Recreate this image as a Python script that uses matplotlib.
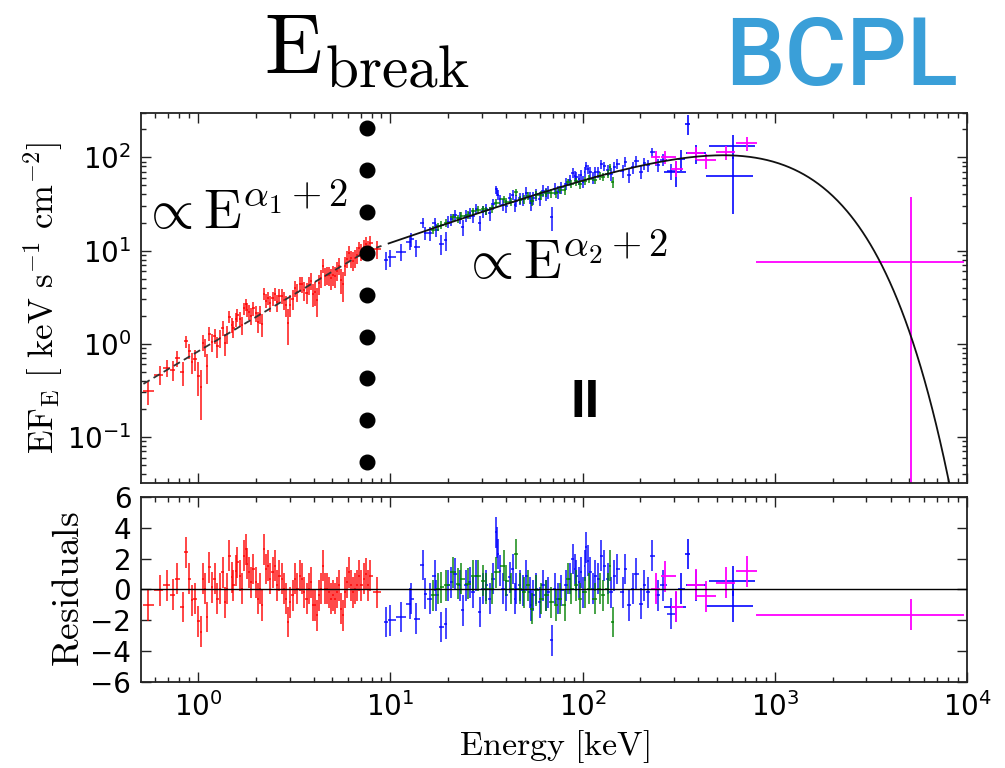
import numpy as np
import matplotlib
matplotlib.use("Agg")
import matplotlib.pyplot as plt
from matplotlib.ticker import LogLocator, NullFormatter, FixedLocator

# ---------------------------------------------------------------------------
# Spectral model: cutoff power law with a sharp break (BCPL)
# ---------------------------------------------------------------------------
E_BREAK = 7.6       # keV
ALPHA1 = -0.773
ALPHA2 = -1.28
E_CUT = 750.0       # keV
NORM_BREAK = 9.96   # EF_E at the break


def bcpl(e):
    e = np.asarray(e, float)
    low = NORM_BREAK * (e / E_BREAK) ** (ALPHA1 + 2)
    high = NORM_BREAK * (e / E_BREAK) ** (ALPHA2 + 2) * np.exp(-(e - E_BREAK) / E_CUT)
    return np.where(e < E_BREAK, low, high)


# ---------------------------------------------------------------------------
# Data: channel energies (keV) and residuals (sigma) per instrument
# ---------------------------------------------------------------------------
red_energy = [0.552, 0.635, 0.688, 0.739, 0.775, 0.833, 0.866, 0.902, 0.927, 0.965,
              1.004, 1.032, 1.066, 1.087, 1.118, 1.145, 1.178, 1.226, 1.260, 1.301,
              1.343, 1.381, 1.420, 1.455, 1.496, 1.526, 1.575, 1.601, 1.653, 1.693,
              1.734, 1.776, 1.804, 1.848, 1.892, 1.940, 2.002, 2.050, 2.100, 2.150,
              2.211, 2.256, 2.310, 2.366, 2.443, 2.502, 2.563, 2.646, 2.731, 2.797,
              2.865, 2.934, 3.006, 3.103, 3.191, 3.281, 3.388, 3.470, 3.553, 3.668,
              3.757, 3.848, 3.941, 4.052, 4.134, 4.235, 4.337, 4.443, 4.550, 4.661,
              4.773, 4.889, 5.008, 5.129, 5.253, 5.380, 5.510, 5.643, 5.803, 5.967,
              6.108, 6.256, 6.407, 6.562, 6.721, 6.884, 7.078, 7.279, 7.456, 7.637,
              7.822, 8.542]
red_resid = [-1.03, -0.06, 0.26, -0.34, 0.69, -1.14, 2.41, 0.69, -0.71, -0.60,
             -2.06, -2.75, 0.69, 0.04, -1.78, 1.44, 0.15, 0.69, -0.60, 0.04,
             1.12, -0.82, 0.04, 2.19, 0.80, 0.26, 1.23, 1.76, 0.90, 0.04,
             2.19, 2.62, 1.66, 1.12, 0.47, 1.33, 0.47, -0.60, 0.04, -1.03,
             2.62, 1.33, 1.55, 0.69, 1.12, 1.55, 0.26, 0.90, 0.69, 0.04,
             -0.60, -2.11, -0.82, -0.39, 0.69, 0.04, 0.90, 0.69, -0.17, -0.60,
             0.04, 0.47, -1.03, -1.03, -1.68, -0.39, 0.04, 1.55, 0.04, 0.04,
             -0.17, -0.60, -0.39, -0.60, -0.17, 0.26, -1.25, -1.68, -0.17, 0.47,
             1.12, 0.26, -0.17, 0.04, 0.26, 0.90, 0.26, 0.69, 1.01, 0.26,
             0.90, -0.17]
red_rel_err = 0.22

blue_energy = [9.48, 9.94, 11.43, 12.63, 12.88, 13.68, 14.81, 15.11, 16.04, 17.03,
               17.37, 18.44, 19.58, 19.97, 20.78, 21.63, 22.97, 23.90, 24.68, 25.88,
               26.94, 28.04, 29.17, 30.36, 31.59, 32.88, 34.21, 35.61, 35.89, 36.32,
               37.06, 38.57, 40.13, 41.76, 43.46, 44.34, 45.23, 47.09, 48.99, 50.98,
               53.05, 54.12, 55.21, 57.45, 59.79, 62.23, 64.76, 66.07, 69.58, 71.55,
               74.45, 77.48, 82.25, 85.60, 89.08, 90.88, 92.71, 95.72, 98.42, 100.4,
               102.4, 104.5, 106.6, 109.6, 113.2, 116.8, 120.2, 125.0, 130.1, 135.4,
               140.9, 146.6, 150.8, 162.0, 167.3, 175.4, 182.6, 190.0, 201.7, 210.0,
               218.5, 230.1, 246.2, 261.4, 288.8]
blue_resid = [-2.11, -2.00, -1.78, -0.92, -0.60, -1.89, 1.59, -0.28, -0.60, 0.90,
              -0.39, -2.43, -2.22, 0.26, 0.47, 1.01, 0.26, -1.35, 0.26, 0.47,
              -0.17, 0.90, -1.46, 0.04, 0.26, -0.60, 0.69, 3.70, 3.05, 2.30,
              1.23, 0.04, -0.39, 0.80, 1.33, -0.60, 0.04, 0.26, -0.06, 0.90,
              -0.17, -1.03, -0.39, 0.04, -0.82, 0.26, -0.39, -0.17, -3.29, 0.04,
              -0.60, -0.06, 0.26, 0.69, 1.98, 1.33, 0.90, 0.47, 1.12, -0.17,
              1.55, 2.73, 1.87, 1.12, 0.04, 0.90, 0.69, 2.19, 1.55, 0.69,
              -0.17, 0.90, 1.33, -0.17, 1.33, -1.03, 0.04, 1.01, -0.92, 0.26,
              -0.17, 2.19, -0.39, 0.26, -1.57]
blue_rel_err = 0.15

green_energy = [16.70, 17.73, 18.44, 19.58, 21.21, 22.51, 23.43, 25.37, 26.94, 28.60,
                30.36, 31.59, 33.95, 35.61, 38.88, 40.13, 42.61, 45.23, 47.09, 49.38,
                52.00, 54.55, 57.45, 61.00, 64.76, 68.75, 72.99, 75.96, 80.64, 83.92,
                87.33, 92.71, 96.48, 102.4, 108.7, 115.5, 122.6, 127.6, 135.4, 139.0,
                143.8]
green_resid = [-0.39, 0.04, 0.15, 0.26, 1.12, 0.37, 0.69, 0.37, 0.90, 0.90,
               0.58, 0.04, 0.04, 1.12, 1.55, 0.58, 0.04, 2.30, 0.04, -0.17,
               0.26, -1.25, -0.06, -0.60, -0.39, -0.82, -1.03, -0.60, -1.03, 0.69,
               0.04, 0.26, -0.60, -0.17, 0.04, -0.60, 0.04, -0.39, 0.04, 1.55,
               -2.11]
green_rel_err = 0.10

# Wide high-energy bins (explicit flux and errors)
blue_wide_energy = [306.6, 325.5, 352.5, 389.0, 604.0, 604.0]
blue_wide_lo = [265.0, 312.0, 342.0, 346.0, 457.0, 440.0]
blue_wide_hi = [346.0, 340.0, 363.0, 439.0, 785.0, 775.0]
blue_wide_flux = [69.6, 96.0, 230.0, 111.0, 134.0, 62.6]
blue_wide_err = [22.0, 25.0, 58.0, 25.0, 38.0, 38.0]
blue_wide_resid = [-1.14, 0.04, 2.30, 0.26, 0.55, -1.10]

mag_energy = [240.0, 267.0, 307.0, 389.0, 440.0, 556.0, 713.0, 5140.0]
mag_lo = [228.0, 255.0, 290.0, 351.0, 395.0, 495.0, 625.0, 798.0]
mag_hi = [253.0, 307.0, 332.0, 430.0, 495.0, 624.0, 813.0, 9640.0]
mag_flux = [100.0, 101.0, 76.0, 111.0, 93.0, 114.0, 142.0, 7.5]
mag_err = [18.0, 16.0, 15.0, 18.0, 17.0, 20.0, 25.0, 30.0]
mag_resid = [0.05, 0.86, -1.13, 0.30, -0.43, 0.43, 1.18, -1.63]

RED = "#ff0000"
BLUE = "#0000ff"
GREEN = "#008000"
MAGENTA = "#ff00ff"


def bin_edges(e):
    e = np.asarray(e, float)
    mid = np.sqrt(e[1:] * e[:-1])
    lo = np.concatenate([[e[0] ** 2 / mid[0]], mid])
    hi = np.concatenate([mid, [e[-1] ** 2 / mid[-1]]])
    return lo, hi


def draw_channels(ax_top, ax_res, energy, resid, rel_err, color, alpha):
    e = np.asarray(energy, float)
    r = np.asarray(resid, float)
    lo, hi = bin_edges(e)
    model = bcpl(e)
    err = rel_err * model
    flux = model + r * err
    xerr = [e - lo, hi - e]
    kw = dict(fmt="none", ecolor=color, elinewidth=1.2, capsize=0, alpha=alpha)
    ax_top.errorbar(e, flux, yerr=err, xerr=xerr, **kw)
    ax_res.errorbar(e, r, yerr=1.0, xerr=xerr, **kw)


def draw_wide(ax_top, ax_res, energy, lo, hi, flux, err, resid, color, alpha):
    e = np.asarray(energy, float)
    f = np.asarray(flux, float)
    s = np.asarray(err, float)
    xerr = [e - np.asarray(lo), np.asarray(hi) - e]
    yerr = [np.minimum(s, 0.9999 * f), s]
    kw = dict(fmt="none", ecolor=color, elinewidth=1.3, capsize=0, alpha=alpha)
    ax_top.errorbar(e, f, yerr=yerr, xerr=xerr, **kw)
    ax_res.errorbar(e, resid, yerr=1.0, xerr=xerr, **kw)


fig = plt.figure(figsize=(10.05, 7.68), dpi=100)
ax = fig.add_axes([0.1403, 0.3711, 0.8219, 0.4818])
axr = fig.add_axes([0.1403, 0.1120, 0.8219, 0.2409], sharex=ax)

draw_channels(ax, axr, red_energy, red_resid, red_rel_err, RED, 0.85)
draw_channels(ax, axr, blue_energy, blue_resid, blue_rel_err, BLUE, 0.85)
draw_channels(ax, axr, green_energy, green_resid, green_rel_err, GREEN, 0.85)
draw_wide(ax, axr, blue_wide_energy, blue_wide_lo, blue_wide_hi, blue_wide_flux,
          blue_wide_err, blue_wide_resid, BLUE, 0.9)
draw_wide(ax, axr, mag_energy, mag_lo, mag_hi, mag_flux, mag_err, mag_resid, MAGENTA, 1.0)

# Model curve: dashed over the soft band, solid over the hard band
e_soft = np.geomspace(0.52, 9.0, 200)
e_hard = np.geomspace(9.8, 1.0e4, 600)
ax.plot(e_soft, bcpl(e_soft), color="#333333", lw=1.3, ls=(0, (4, 2.5)), zorder=5)
ax.plot(e_hard, bcpl(e_hard), color="#111111", lw=1.3, zorder=5)

# Break marker: column of dots at the break energy
dot_levels = np.geomspace(0.054, 205.0, 9)
ax.plot(np.full(dot_levels.size, E_BREAK), dot_levels, "o", color="black",
        ms=10.5, zorder=6, clip_on=False)

axr.axhline(0.0, color="black", lw=1.0, zorder=5)

# Axes scales and ticks
ax.set_xscale("log")
ax.set_yscale("log")
ax.set_xlim(0.505, 1.0e4)
ax.set_ylim(0.032, 300.0)
axr.set_ylim(-6, 6)
axr.yaxis.set_major_locator(FixedLocator([-6, -4, -2, 0, 2, 4, 6]))
ax.xaxis.set_major_locator(LogLocator(base=10, numticks=10))
ax.xaxis.set_minor_locator(LogLocator(base=10, subs=np.arange(2, 10), numticks=20))
ax.yaxis.set_minor_locator(LogLocator(base=10, subs=np.arange(2, 10), numticks=20))
ax.yaxis.set_minor_formatter(NullFormatter())

for a in (ax, axr):
    a.tick_params(which="both", direction="in", top=True, right=True, width=1.0,
                  color="#222222")
    a.tick_params(which="major", length=7, labelsize=20, pad=7)
    a.tick_params(which="minor", length=3.5)
    for sp in a.spines.values():
        sp.set_linewidth(1.3)
        sp.set_color("#222222")

ax.tick_params(axis="x", which="both", labelbottom=False)

# Labels
ax.set_ylabel(r"$\mathrm{EF_E\ [\ keV\ s^{-1}\ cm^{-2}]}$", fontsize=25,
              math_fontfamily="cm")
ax.yaxis.set_label_coords(-0.092, 0.5)
axr.set_ylabel(r"$\mathrm{Residuals}$", fontsize=27, math_fontfamily="cm")
axr.yaxis.set_label_coords(-0.065, 0.5)
axr.set_xlabel(r"$\mathrm{Energy\ [keV]}$", fontsize=24.5, math_fontfamily="cm")
axr.xaxis.set_label_coords(0.5, -0.25)

# Annotations inside the spectrum panel
ax.text(0.0, 0.727, r"$\propto \mathrm{E}^{\alpha_1+2}$", transform=ax.transAxes,
        fontsize=40, math_fontfamily="cm", ha="left", va="center")
ax.text(0.387, 0.592, r"$\propto \mathrm{E}^{\alpha_2+2}$", transform=ax.transAxes,
        fontsize=40, math_fontfamily="cm", ha="left", va="center")
ax.text(0.5375, 0.216, "II", transform=ax.transAxes, fontsize=38,
        fontweight="bold", family="Liberation Sans", ha="center", va="center")

# Header texts
fig.text(367 / 1005, 1 - 74 / 768, r"$\mathrm{E_{break}}$", fontsize=61,
         math_fontfamily="cm", ha="center", va="baseline")
fig.text(842 / 1005, 1 - 85 / 768, "BCPL", fontsize=68, family="Roboto",
         fontweight="medium", color="#3a9fd8", ha="center", va="baseline")

fig.savefig("out.png", dpi=100)
